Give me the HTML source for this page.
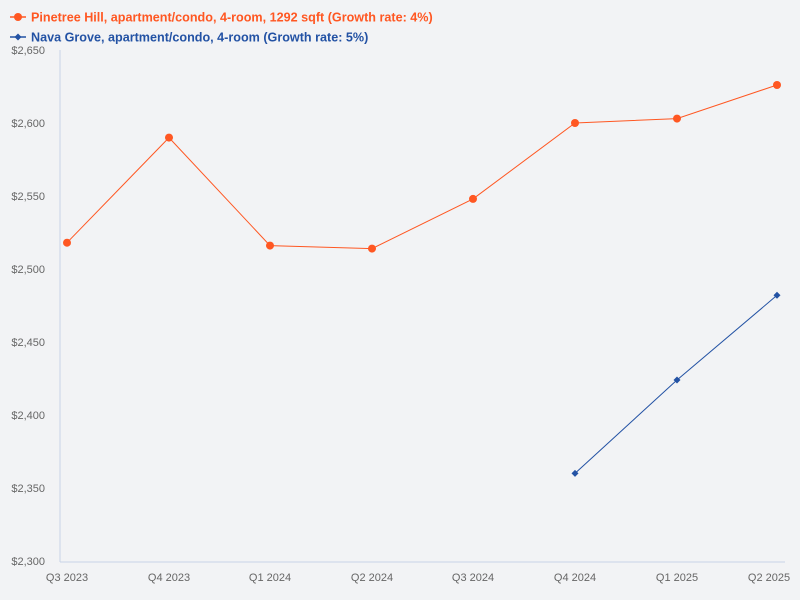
<!DOCTYPE html>
<html><head><style>
html,body{margin:0;padding:0;background:#f2f3f5;}
svg{display:block;font-family:"Liberation Sans","DejaVu Sans",sans-serif;}
</style></head><body>
<svg width="800" height="600" viewBox="0 0 800 600">
<rect width="800" height="600" fill="#f2f3f5"/>
<g font-size="12.6" font-weight="bold">
<line x1="10" y1="17" x2="26" y2="17" stroke="#ff5722" stroke-width="1.5"/>
<circle cx="18" cy="17" r="4" fill="#ff5722"/>
<text x="31" y="21.5" fill="#ff5722">Pinetree Hill, apartment/condo, 4-room, 1292 sqft (Growth rate: 4%)</text>
<line x1="10" y1="37" x2="26" y2="37" stroke="#2352a4" stroke-width="1.5"/>
<path d="M18 33.5L21.5 37L18 40.5L14.5 37Z" fill="#2352a4"/>
<text x="31" y="41.5" fill="#2352a4">Nava Grove, apartment/condo, 4-room (Growth rate: 5%)</text>
</g>
<g fill="#666" font-size="11" text-anchor="end">
<text x="45" y="54">$2,650</text><text x="45" y="127">$2,600</text><text x="45" y="200">$2,550</text><text x="45" y="273">$2,500</text><text x="45" y="346">$2,450</text><text x="45" y="419">$2,400</text><text x="45" y="492">$2,350</text><text x="45" y="565">$2,300</text>
</g>
<line x1="60" y1="50" x2="60" y2="562" stroke="#c8d3e6" stroke-width="1"/>
<line x1="60" y1="562" x2="785" y2="562" stroke="#c8d3e6" stroke-width="1"/>
<g fill="#666" font-size="11" text-anchor="middle">
<text x="67" y="581">Q3 2023</text><text x="169" y="581">Q4 2023</text><text x="270" y="581">Q1 2024</text><text x="372" y="581">Q2 2024</text><text x="473" y="581">Q3 2024</text><text x="575" y="581">Q4 2024</text><text x="677" y="581">Q1 2025</text><text x="769" y="581">Q2 2025</text>
</g>
<polyline fill="none" stroke="#ff5722" stroke-width="1" points="67,242.7 169,137.6 270,245.6 372,248.6 473,198.9 575,123 677,118.6 777,85"/>
<g fill="#ff5722">
<circle cx="67" cy="242.7" r="4"/><circle cx="169" cy="137.6" r="4"/><circle cx="270" cy="245.6" r="4"/><circle cx="372" cy="248.6" r="4"/><circle cx="473" cy="198.9" r="4"/><circle cx="575" cy="123" r="4"/><circle cx="677" cy="118.6" r="4"/><circle cx="777" cy="85" r="4"/>
</g>
<polyline fill="none" stroke="#2352a4" stroke-width="1" points="575,473.4 677,380 777,295.3"/>
<g fill="#2352a4">
<path d="M575 469.9L578.5 473.4L575 476.9L571.5 473.4Z"/>
<path d="M677 376.5L680.5 380L677 383.5L673.5 380Z"/>
<path d="M777 291.8L780.5 295.3L777 298.8L773.5 295.3Z"/>
</g>
</svg>
</body></html>
